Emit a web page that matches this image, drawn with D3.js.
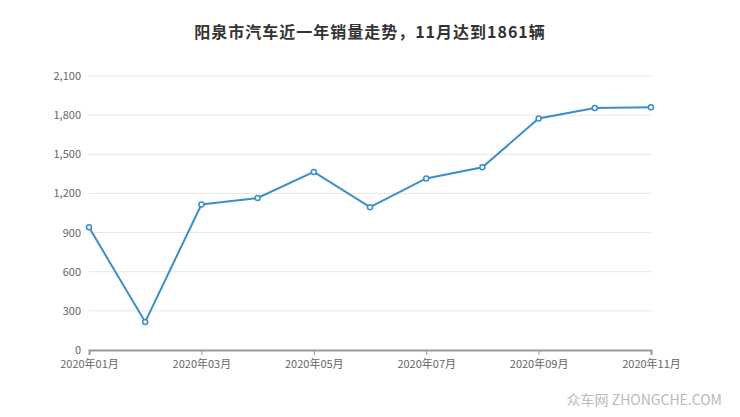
<!DOCTYPE html>
<html><head><meta charset="utf-8">
<script src="https://cdn.jsdelivr.net/npm/d3@7"></script>
<style>body{margin:0;background:#fff;font-family:"Noto Sans CJK SC","Noto Sans",sans-serif}</style>
</head><body>
<svg id="chart"></svg>
<script>
var months = ["2020年01月","2020年02月","2020年03月","2020年04月","2020年05月","2020年06月","2020年07月","2020年08月","2020年09月","2020年10月","2020年11月"];
var sales = [940, 215, 1115, 1165, 1365, 1095, 1315, 1400, 1775, 1855, 1861];
var yTicks = [0, 300, 600, 900, 1200, 1500, 1800, 2100];

var width = 740, height = 417,
    mLeft = 89, mRight = 651, mTop = 76, mBottom = 350;

var svg = d3.select("#chart").attr("width", width).attr("height", height);

svg.append("text")
    .attr("x", width / 2).attr("y", 38)
    .attr("text-anchor", "middle")
    .style("font-size", "16px").style("font-weight", "bold").style("fill", "#333")
    .style("letter-spacing", "1px")
    .text("阳泉市汽车近一年销量走势，11月达到1861辆");

var x = d3.scalePoint().domain(months).range([mLeft, mRight]);
var y = d3.scaleLinear().domain([0, 2100]).range([mBottom, mTop]);

svg.append("g").selectAll("line").data(yTicks.slice(1)).enter().append("line")
    .attr("x1", mLeft).attr("x2", mRight)
    .attr("y1", function(d) { return y(d); }).attr("y2", function(d) { return y(d); })
    .style("stroke", "#e6e6e6");

svg.append("g").selectAll("text").data(yTicks).enter().append("text")
    .attr("x", mLeft - 8).attr("y", function(d) { return y(d) + 4; })
    .attr("text-anchor", "end")
    .style("font-size", "11px").style("fill", "#666")
    .text(d3.format(","));

var xAxis = svg.append("g")
    .attr("transform", "translate(0," + mBottom + ")")
    .call(d3.axisBottom(x).tickValues(months.filter(function(d, i) { return i % 2 === 0; })).tickSize(5));
xAxis.select(".domain").style("stroke", "#999").style("stroke-width", 2);
xAxis.selectAll(".tick line").style("stroke", "#999");
xAxis.selectAll("text").style("font-size", "11px").style("fill", "#666")
    .style("font-family", "'Noto Sans CJK SC',sans-serif").attr("dy", "0.9em");

var line = d3.line()
    .x(function(d, i) { return x(months[i]); })
    .y(function(d) { return y(d); });

svg.append("path").datum(sales)
    .attr("d", line)
    .style("fill", "none").style("stroke", "#3a8fc8").style("stroke-width", 2);

svg.append("g").selectAll("circle").data(sales).enter().append("circle")
    .attr("cx", function(d, i) { return x(months[i]); })
    .attr("cy", function(d) { return y(d); })
    .attr("r", 2.5)
    .style("fill", "#fff").style("stroke", "#3a8fc8").style("stroke-width", 1.5);

svg.append("text")
    .attr("x", 722).attr("y", 405).attr("text-anchor", "end")
    .style("font-size", "14px").style("fill", "#bbb")
    .text("众车网 ZHONGCHE.COM");
</script>
</body></html>
